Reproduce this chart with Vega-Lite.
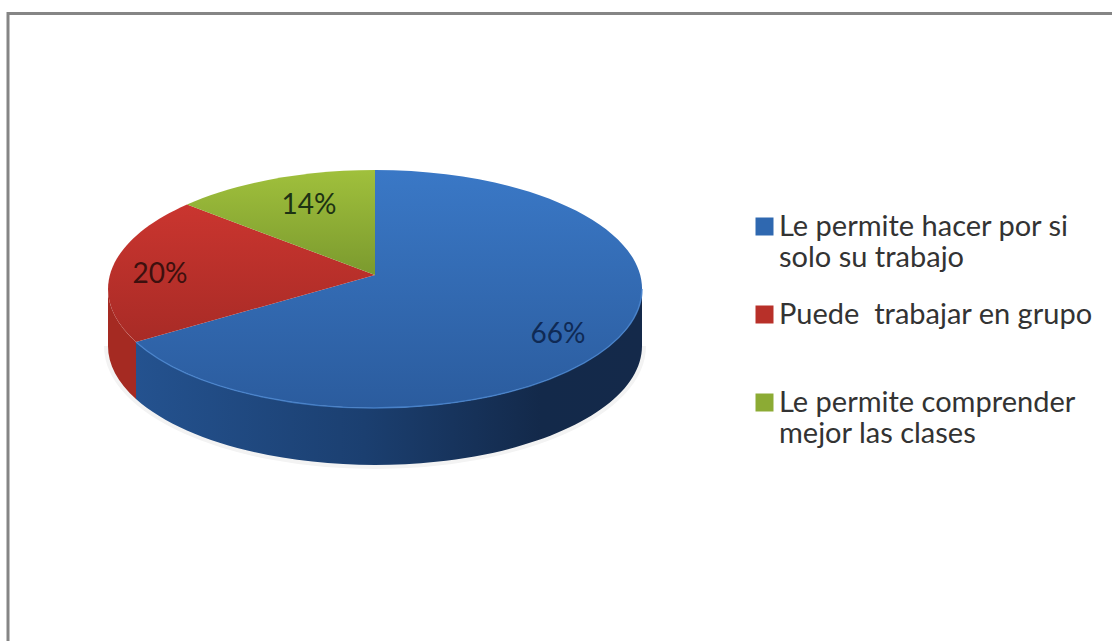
{
"$schema":"https://vega.github.io/schema/vega-lite/v6.json",
"width":1112,"height":641,"padding":0,"autosize":"none","background":"#ffffff",
"config":{"view":{"stroke":null}},
"data":{"values":[
{"category":"Le permite hacer por si solo su trabajo","share":0.66},
{"category":"Puede  trabajar en grupo","share":0.20},
{"category":"Le permite comprender mejor las clases","share":0.14}
]},
"layer":[
{"data":{"values":[{"part":"frame"}]},
 "mark":{"type":"point","shape":"M -548 321 L -548 -307 L 556 -307","filled":false,"stroke":"#858585","strokeWidth":3,"size":4,"opacity":1},"encoding":{}},
{"data":{"values":[{"part":"shadow"}]},
 "mark":{"type":"point","shape":"M -448 25.5 A 267 119 0 0 0 86 25.5","filled":false,"stroke":"#f3f3f3","strokeWidth":8,"size":4,"opacity":1},"encoding":{}},
{"mark":{"type":"point","shape":"square","size":1,"filled":true,"opacity":1,"strokeWidth":0},
 "encoding":{
  "color":{"field":"category","type":"nominal","scale":{
    "domain":["Le permite hacer por si solo su trabajo","Puede  trabajar en grupo","Le permite comprender mejor las clases"],
    "range":["#2f68b0","#b83029","#8cab34"]},
   "legend":{"title":null,"orient":"none","legendX":750,"legendY":212,"padding":0,"symbolType":"square","symbolSize":324,"symbolStrokeWidth":0,
     "labelFont":"Lato","labelFontSize":29,"labelColor":"#333333","labelLimit":400,"labelOffset":0,"labelBaseline":"middle","labelLineHeight":35,"rowPadding":27,"gridAlign":"all","columns":1,
     "labelExpr":"split(replace(replace(replace(datum.label,'  ',' \u00a0'),'por si ','por si|'),'comprender ','comprender|'),'|')"}}
 }},
{"transform":[{"filter":"datum.share==0.66"}],
 "mark":{"type":"point","size":4,"filled":true,"opacity":1,"strokeWidth":0,
  "shape":"M 86 -31.5 A 267 119 0 0 1 -420 21.5 L -420 78.5 A 267 119 0 0 0 86 25.5 Z",
  "fill":{"gradient":"linear","x1":0,"y1":0,"x2":1,"y2":0,"stops":[{"offset":0,"color":"#24528f"},{"offset":0.45,"color":"#1b3f70"},{"offset":0.8,"color":"#13294a"},{"offset":1,"color":"#14294a"}]}},"encoding":{}},
{"transform":[{"filter":"datum.share==0.2"}],
 "mark":{"type":"point","size":4,"filled":true,"opacity":1,"strokeWidth":0,
  "shape":"M -420 21.5 A 267 119 0 0 1 -448 -31.5 L -448 25.5 A 267 119 0 0 0 -420 78.5 Z",
  "fill":"#a52a22"},"encoding":{}},
{"transform":[{"filter":"datum.share==0.66"}],"mark":{"type":"point","size":4,"filled":true,"opacity":1,"strokeWidth":0,"shape":"M -181 -45.5 L -181 -150.5 A 267 119 0 1 1 -420 21.5 Z","fill":{"gradient":"linear","x1":0,"y1":0,"x2":0,"y2":1,"stops":[{"offset":0,"color":"#3a78c6"},{"offset":1,"color":"#2b5c9e"}]}},"encoding":{}},
{"transform":[{"filter":"datum.share==0.2"}],"mark":{"type":"point","size":4,"filled":true,"opacity":1,"strokeWidth":0,"shape":"M -181 -45.5 L -420 21.5 A 267 119 0 0 1 -369 -116 Z","fill":{"gradient":"linear","x1":0,"y1":0,"x2":0,"y2":1,"stops":[{"offset":0,"color":"#ca352f"},{"offset":1,"color":"#a82b26"}]}},"encoding":{}},
{"transform":[{"filter":"datum.share==0.14"}],"mark":{"type":"point","size":4,"filled":true,"opacity":1,"strokeWidth":0,"shape":"M -181 -45.5 L -369 -116 A 267 119 0 0 1 -181 -150.5 Z","fill":{"gradient":"linear","x1":0,"y1":0,"x2":0,"y2":1,"stops":[{"offset":0,"color":"#a0c03c"},{"offset":1,"color":"#7b9a2e"}]}},"encoding":{}},
{"data":{"values":[{"part":"rim"}]},
 "mark":{"type":"point","shape":"M -420 21.5 A 267 119 0 0 0 86 -31.5","filled":false,"stroke":"#4a86d0","strokeWidth":1.5,"size":4,"opacity":0.8},"encoding":{}},
{"transform":[{"filter":"datum.share==0.14"}],"mark":{"type":"text","font":"Lato","fontSize":28,"align":"center","baseline":"middle","dx":-247,"dy":-114.5,"color":"#1d3213"},"encoding":{"text":{"field":"share","format":".0%"}}},
{"transform":[{"filter":"datum.share==0.2"}],"mark":{"type":"text","font":"Lato","fontSize":28,"align":"center","baseline":"middle","dx":-396,"dy":-45.5,"color":"#3d100e"},"encoding":{"text":{"field":"share","format":".0%"}}},
{"transform":[{"filter":"datum.share==0.66"}],"mark":{"type":"text","font":"Lato","fontSize":28,"align":"center","baseline":"middle","dx":2,"dy":14.5,"color":"#0f2a55"},"encoding":{"text":{"field":"share","format":".0%"}}}
]
}
